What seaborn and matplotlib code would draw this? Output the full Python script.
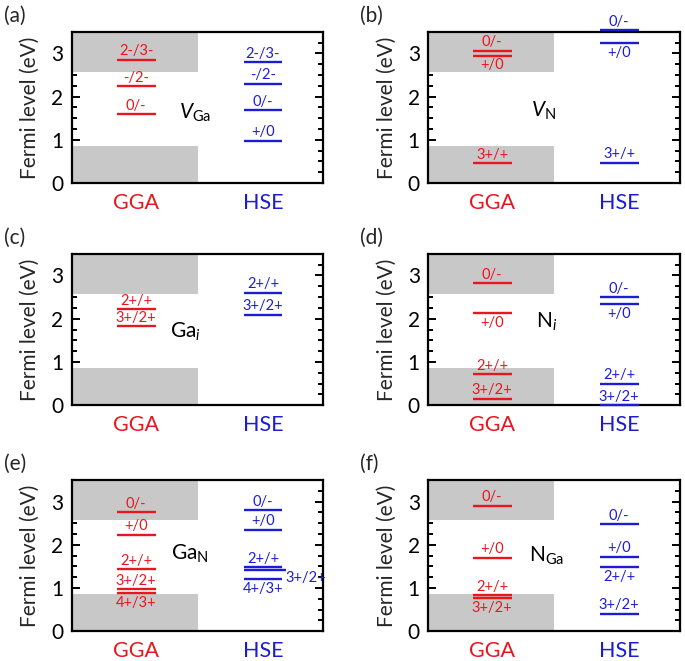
import matplotlib
matplotlib.use('Agg')
import pandas as pd
import matplotlib.pyplot as plt
import seaborn as sns
from matplotlib.ticker import MultipleLocator

RED = '#e8161e'
BLUE = '#1c1cd6'
GRAY = '#c8c8c8'

methods = ['GGA', 'HSE']
vbm_gga = 0.86
cbm_gga = 2.57

# (a) V_Ga
a_gga_levels = [2.85, 2.24, 1.60]
a_gga_labels = ['2-/3-', '-/2-', '0/-']
a_hse_levels = [2.80, 2.30, 1.69, 0.98]
a_hse_labels = ['2-/3-', '-/2-', '0/-', '+/0']

# (b) V_N
b_gga_levels = [3.06, 2.95, 0.46]
b_gga_labels = ['0/-', '+/0', '3+/+']
b_hse_levels = [3.54, 3.23, 0.47]
b_hse_labels = ['0/-', '+/0', '3+/+']

# (c) Ga_i
c_gga_levels = [2.22, 1.82]
c_gga_labels = ['2+/+', '3+/2+']
c_hse_levels = [2.60, 2.09]
c_hse_labels = ['2+/+', '3+/2+']

# (d) N_i
d_gga_levels = [2.82, 2.13, 0.71, 0.15]
d_gga_labels = ['0/-', '+/0', '2+/+', '3+/2+']
d_hse_levels = [2.50, 2.34, 0.50, 0.0]
d_hse_labels = ['0/-', '+/0', '2+/+', '3+/2+']

# (e) Ga_N
e_gga_levels = [2.76, 2.23, 1.43, 0.97, 0.89]
e_gga_labels = ['0/-', '+/0', '2+/+', '3+/2+', '4+/3+']
e_hse_levels = [2.80, 2.35, 1.48, 1.42, 1.21]
e_hse_labels = ['0/-', '+/0', '2+/+', '3+/2+', '4+/3+']

# (f) N_Ga
f_gga_levels = [2.90, 1.70, 0.84, 0.77]
f_gga_labels = ['0/-', '+/0', '2+/+', '3+/2+']
f_hse_levels = [2.47, 1.72, 1.49, 0.41]
f_hse_labels = ['0/-', '+/0', '2+/+', '3+/2+']

defects = [r'$V_{\mathrm{Ga}}$', r'$V_{\mathrm{N}}$', r'$\mathrm{Ga}_{i}$',
           r'$\mathrm{N}_{i}$', r'$\mathrm{Ga}_{\mathrm{N}}$', r'$\mathrm{N}_{\mathrm{Ga}}$']

# where each label sits relative to its line
where = {
    'a': (['up', 'up', 'up'], ['up', 'up', 'up', 'up']),
    'b': (['up', 'down', 'up'], ['up', 'down', 'up']),
    'c': (['up', 'up'], ['up', 'up']),
    'd': (['up', 'down', 'up', 'up'], ['up', 'down', 'up', 'up']),
    'e': (['up', 'up', 'up', 'up', 'down'], ['up', 'up', 'up', 'right', 'down']),
    'f': (['up', 'up', 'up', 'down'], ['up', 'up', 'down', 'up']),
}
defect_xy = [(0.98, 1.63), (0.92, 1.66), (0.90, 1.69), (0.94, 1.92), (0.94, 1.78), (0.94, 1.74)]

rows = []
for key, gl, gt, hl, ht in [
        ('a', a_gga_levels, a_gga_labels, a_hse_levels, a_hse_labels),
        ('b', b_gga_levels, b_gga_labels, b_hse_levels, b_hse_labels),
        ('c', c_gga_levels, c_gga_labels, c_hse_levels, c_hse_labels),
        ('d', d_gga_levels, d_gga_labels, d_hse_levels, d_hse_labels),
        ('e', e_gga_levels, e_gga_labels, e_hse_levels, e_hse_labels),
        ('f', f_gga_levels, f_gga_labels, f_hse_levels, f_hse_labels)]:
    for i, (lv, lb) in enumerate(zip(gl, gt)):
        rows.append({'panel': key, 'method': 'GGA', 'level': lv, 'label': lb, 'where': where[key][0][i]})
    for i, (lv, lb) in enumerate(zip(hl, ht)):
        rows.append({'panel': key, 'method': 'HSE', 'level': lv, 'label': lb, 'where': where[key][1][i]})
df = pd.DataFrame(rows)

sns.set_style('ticks')
plt.rcParams['font.family'] = ['Lato', 'DejaVu Sans']
plt.rcParams['mathtext.fontset'] = 'custom'
plt.rcParams['mathtext.rm'] = 'Lato'
plt.rcParams['mathtext.it'] = 'Lato:italic'

fig = plt.figure(figsize=(6.85, 6.61), dpi=100)
lefts = [0.105, 0.625]
bottoms = [0.723, 0.387, 0.045]
colors = {'GGA': RED, 'HSE': BLUE}
centers = {'GGA': 0.51, 'HSE': 1.52}
half = 0.155

for k, key in enumerate('abcdef'):
    ax = fig.add_axes([lefts[k % 2], bottoms[k // 2], 0.367, 0.229])
    ax.fill_between([0, 1], 0, vbm_gga, color=GRAY, lw=0)
    ax.fill_between([0, 1], cbm_gga, 3.5, color=GRAY, lw=0)
    sub = df[df['panel'] == key]
    for _, r in sub.iterrows():
        c = colors[r['method']]
        xc = centers[r['method']]
        x1 = xc + half
        if r['where'] == 'right':
            x1 = xc + half + 0.03
        ax.hlines(r['level'], xc - half, x1, color=c, lw=1.7, clip_on=False, zorder=3)
        if r['where'] == 'up':
            ax.annotate(r['label'], (xc, r['level']), xytext=(0, 1), textcoords='offset points',
                        ha='center', va='bottom', color=c, fontsize=10.5, annotation_clip=False)
        elif r['where'] == 'down':
            ax.annotate(r['label'], (xc, r['level']), xytext=(0, -2), textcoords='offset points',
                        ha='center', va='top', color=c, fontsize=10.5, annotation_clip=False)
        else:
            ax.annotate(r['label'], (x1 - 0.01, r['level'] - 0.2), ha='left', va='center',
                        color=c, fontsize=10.5, annotation_clip=False)
    dx, dy = defect_xy[k]
    ax.text(dx, dy, defects[k], ha='center', va='center', fontsize=15, color='black')

    ax.set_xlim(0, 2)
    ax.set_ylim(0, 3.5)
    ax.yaxis.set_major_locator(MultipleLocator(1))
    ax.yaxis.set_minor_locator(MultipleLocator(0.25))
    ax.tick_params(axis='y', which='both', direction='in', left=True, right=True,
                   width=1.4, labelsize=15, colors='black')
    ax.tick_params(axis='y', which='major', length=5.5, pad=6)
    ax.tick_params(axis='y', which='minor', length=3.3)
    ax.set_xticks([centers['GGA'], centers['HSE']])
    ax.set_xticklabels(methods, fontsize=15.5)
    ax.tick_params(axis='x', length=0, pad=7)
    for lab, m in zip(ax.get_xticklabels(), methods):
        lab.set_color(colors[m])
    for s in ax.spines.values():
        s.set_linewidth(1.6)
        s.set_color('black')
    ax.set_ylabel('Fermi level (eV)', fontsize=15, labelpad=8)
    ax.text(-0.27, 1.105, '(' + key + ')', transform=ax.transAxes, ha='left', va='center', fontsize=15)

fig.savefig('out.png', dpi=100)
